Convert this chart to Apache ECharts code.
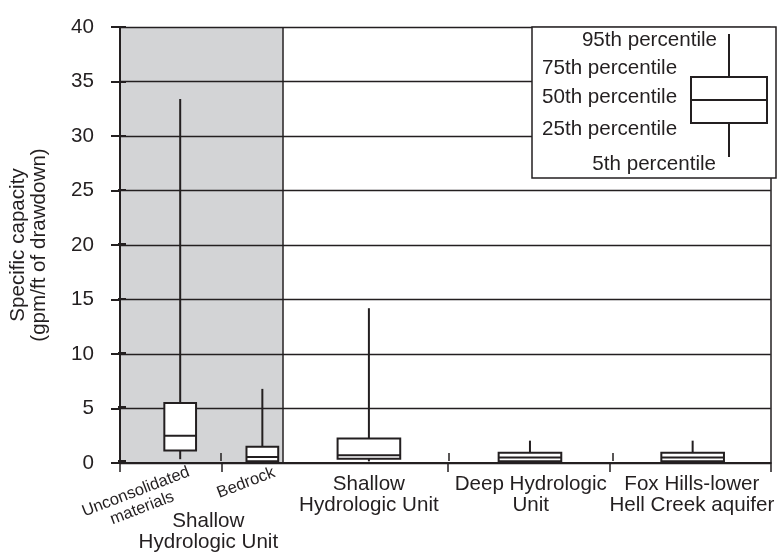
<!DOCTYPE html>
<html lang="en">
<head>
<meta charset="utf-8">
<title>Specific capacity</title>
<style>
  html, body { margin: 0; padding: 0; background: #fff; }
  #main { width: 777px; height: 553px; }
</style>
</head>
<body>
<div id="main"></div>
<script src="https://cdn.jsdelivr.net/npm/echarts@6/dist/echarts.min.js"></script>
<script>
// category positions on a 0-8 x scale (group boundaries at 1.25, 2, 4, 6)
var positions = [0.74, 1.75, 3.06, 5.04, 7.04];
var p5  = [0.35, 0.05, 0.15, 0.1, 0.1];
var p25 = [1.15, 0.15, 0.4, 0.15, 0.15];
var p50 = [2.5, 0.55, 0.7, 0.5, 0.5];
var p75 = [5.5, 1.5, 2.25, 0.93, 0.95];
var p95 = [33.4, 6.8, 14.2, 2.05, 2.05];

var tickValues = [0, 1.25, 4.03, 6.02, 8];
var innerTicks = [1.25, 4.03, 6.02];
var labelPos = [3.06, 5.05, 7.03];
var labels = ['Shallow\nHydrologic Unit', 'Deep Hydrologic\nUnit', 'Fox Hills-lower\nHell Creek aquifer'];
var subLabels = ['Unconsolidated\nmaterials', 'Bedrock'];
var groupPos = 1.1;
var groupLabel = 'Shallow\nHydrologic Unit';
var yTitle = 'Specific capacity\n(gpm/ft of drawdown)';
var legendLabels = ['95th percentile', '75th percentile', '50th percentile', '25th percentile', '5th percentile'];

var ink = '#231f20';
var font = '"Liberation Sans", Arial, Helvetica, sans-serif';
var fs = 20.6;

var boxData = positions.map(function (x, i) {
  return [x, p5[i], p25[i], p50[i], p75[i], p95[i]];
});

function renderBox(params, api) {
  var x = api.value(0);
  var half = (params.dataIndex < 2 ? 0.39 : 0.77) / 2;
  var lo = api.coord([x - half, api.value(2)]);
  var hi = api.coord([x + half, api.value(4)]);
  var c5 = api.coord([x, api.value(1)]);
  var c25 = api.coord([x, api.value(2)]);
  var c75 = api.coord([x, api.value(4)]);
  var c95 = api.coord([x, api.value(5)]);
  var mL = api.coord([x - half, api.value(3)]);
  var mR = api.coord([x + half, api.value(3)]);
  var st = { stroke: ink, lineWidth: 2, fill: null };
  return {
    type: 'group',
    children: [
      { type: 'line', shape: { x1: c95[0], y1: c95[1], x2: c75[0], y2: c75[1] }, style: st },
      { type: 'line', shape: { x1: c25[0], y1: c25[1], x2: c5[0], y2: c5[1] }, style: st },
      { type: 'rect', shape: { x: lo[0], y: hi[1], width: hi[0] - lo[0], height: lo[1] - hi[1] },
        style: { fill: '#fff', stroke: ink, lineWidth: 2 } },
      { type: 'line', shape: { x1: mL[0], y1: mL[1], x2: mR[0], y2: mR[1] }, style: st }
    ]
  };
}

function txt(text, x, y, align, size, rot) {
  return {
    type: 'text', x: x, y: y, rotation: rot || 0, z: 100,
    style: {
      text: text, fill: ink, fontSize: size, fontFamily: font, lineHeight: size + 1,
      textAlign: align, align: align, textVerticalAlign: 'middle', verticalAlign: 'middle'
    }
  };
}

var deg = Math.PI / 180;
var graphics = [
  { type: 'rect', z: 99, shape: { x: 532, y: 27, width: 244, height: 151 },
    style: { fill: '#fff', stroke: ink, lineWidth: 1.5 } },
  { type: 'line', z: 100, shape: { x1: 729, y1: 34, x2: 729, y2: 77 }, style: { stroke: ink, lineWidth: 2 } },
  { type: 'line', z: 100, shape: { x1: 729, y1: 123, x2: 729, y2: 157 }, style: { stroke: ink, lineWidth: 2 } },
  { type: 'rect', z: 100, shape: { x: 691, y: 77, width: 76, height: 46 },
    style: { fill: '#fff', stroke: ink, lineWidth: 2 } },
  { type: 'line', z: 101, shape: { x1: 691, y1: 100, x2: 767, y2: 100 }, style: { stroke: ink, lineWidth: 2 } },
  txt(legendLabels[0], 717, 40, 'right', fs),
  txt(legendLabels[1], 542, 68, 'left', fs),
  txt(legendLabels[2], 542, 97, 'left', fs),
  txt(legendLabels[3], 542, 129, 'left', fs),
  txt(legendLabels[4], 716, 164, 'right', fs),
  txt(subLabels[0], 139, 500, 'center', 16.5, 21 * deg),
  txt(subLabels[1], 246, 483, 'center', 16.5, 21 * deg)
];

function labelAt(v) {
  for (var i = 0; i < labelPos.length; i++) {
    if (Math.abs(labelPos[i] - v) < 1e-6) return labels[i];
  }
  return '';
}

var myChart = echarts.init(document.getElementById('main'));
var option = {
  animation: false,
  textStyle: { fontFamily: font, color: ink },
  grid: [
    { left: 118, right: 2, top: 27, bottom: 90 },
    { left: 118, right: 2, top: 27, bottom: 90 }
  ],
  xAxis: [
    {
      type: 'value', gridIndex: 0, min: 0, max: 8, z: 3,
      axisLine: { show: true, lineStyle: { color: ink, width: 2 } },
      axisTick: { show: true, length: 9, customValues: tickValues, lineStyle: { color: ink, width: 1.5 } },
      splitLine: { show: false },
      axisLabel: {
        customValues: labelPos, formatter: labelAt, color: ink, fontSize: fs,
        lineHeight: 21, margin: 11, fontFamily: font
      }
    },
    {
      type: 'value', gridIndex: 1, min: 0, max: 8, z: 3,
      axisLine: { show: false },
      axisTick: { show: true, inside: true, length: 8, customValues: innerTicks, lineStyle: { color: ink, width: 1.5 } },
      splitLine: { show: false },
      axisLabel: {
        customValues: [groupPos], formatter: function () { return groupLabel; },
        color: ink, fontSize: fs, lineHeight: 21, margin: 50, fontFamily: font
      }
    }
  ],
  yAxis: [
    {
      type: 'value', gridIndex: 0, min: 0, max: 40, interval: 5, z: 3,
      name: yTitle, nameLocation: 'middle', nameGap: 70,
      nameTextStyle: { fontSize: fs, lineHeight: 21, color: ink, fontFamily: font },
      axisLine: { show: true, lineStyle: { color: ink, width: 2 } },
      axisTick: { show: true, length: 9, lineStyle: { color: ink, width: 2 } },
      axisLabel: { fontSize: fs, margin: 26, color: ink, fontFamily: font },
      splitLine: { show: true, lineStyle: { color: ink, width: 1.3 } }
    },
    {
      type: 'value', gridIndex: 1, min: 0, max: 40, interval: 5, z: 3,
      axisLine: { show: false },
      axisTick: { show: true, inside: true, length: 8, lineStyle: { color: ink, width: 2 } },
      axisLabel: { show: false },
      splitLine: { show: false }
    }
  ],
  series: [
    {
      type: 'line', xAxisIndex: 0, yAxisIndex: 0, data: [], z: -1, silent: true,
      markArea: { silent: true, itemStyle: { color: '#d3d4d6' }, data: [[{ xAxis: 0 }, { xAxis: 2 }]] }
    },
    {
      type: 'line', xAxisIndex: 0, yAxisIndex: 0, data: [], z: 4, silent: true,
      markLine: {
        silent: true, symbol: 'none', label: { show: false },
        lineStyle: { color: ink, width: 1.5, type: 'solid' },
        data: [{ xAxis: 2 }, { xAxis: 8 }]
      }
    },
    {
      type: 'custom', xAxisIndex: 0, yAxisIndex: 0, z: 5,
      renderItem: renderBox,
      encode: { x: 0, y: [1, 2, 3, 4, 5] },
      data: boxData
    }
  ],
  graphic: graphics
};
myChart.setOption(option);
</script>
</body>
</html>
